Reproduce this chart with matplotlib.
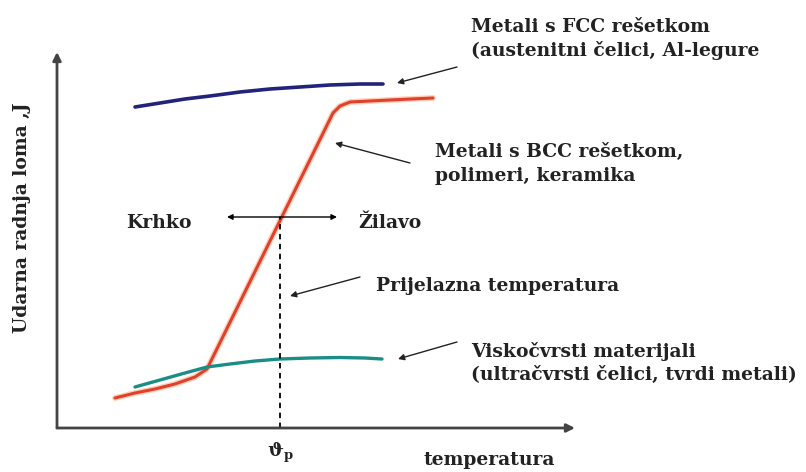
import matplotlib
matplotlib.use("Agg")
import matplotlib.pyplot as plt

# curve points (x to the right, y downwards, picture units)
fcc_x = [135, 160, 185, 210, 240, 270, 300, 330, 360, 383]
fcc_y = [107, 103, 99, 96, 92, 89, 87, 85, 84, 84]

bcc_x = [115, 135, 155, 175, 195, 207, 333, 340, 350, 370, 400, 433]
bcc_y = [398, 393, 389, 384, 377, 369, 113, 106, 102, 101, 99.5, 98]

visko_x = [135, 160, 185, 207, 230, 255, 280, 310, 340, 365, 382]
visko_y = [387, 380, 373, 367, 364, 361, 359, 358, 357.5, 358, 359]

# transition temperature marker
tp_x = 280
tp_y = 217

# labels
fcc_label = "Metali s FCC rešetkom\n(austenitni čelici, Al-legure"
bcc_label = "Metali s BCC rešetkom,\npolimeri, keramika"
visko_label = "Viskočvrsti materijali\n(ultračvrsti čelici, tvrdi metali)"
tp_label = "Prijelazna temperatura"
y_label = "Udarna radnja loma ,J"
x_label = "temperatura"

plt.rcParams['font.family'] = ['DejaVu Serif']
plt.rcParams['font.weight'] = 'bold'
fs = 13.5

fig = plt.figure(figsize=(8.06, 4.72), dpi=100)
ax = fig.add_axes([0, 0, 1, 1])
ax.set_xlim(0, 806)
ax.set_ylim(472, 0)
ax.axis('off')

# axes with arrows
ax.annotate('', xy=(575, 428), xytext=(57, 428),
            arrowprops=dict(arrowstyle='-|>', color='#444444', lw=2, mutation_scale=12,
                            shrinkA=0, shrinkB=0))
ax.annotate('', xy=(57, 52), xytext=(57, 428),
            arrowprops=dict(arrowstyle='-|>', color='#444444', lw=2, mutation_scale=12,
                            shrinkA=0, shrinkB=0))

# curves
ax.plot(bcc_x, bcc_y, color='#ffb08a', lw=4.2, solid_capstyle='round', alpha=0.6)
ax.plot(bcc_x, bcc_y, color='#e0402c', lw=2.2, solid_capstyle='round')
ax.plot(visko_x, visko_y, color='#1a8e86', lw=2.4, solid_capstyle='round')
ax.plot(fcc_x, fcc_y, color='#22237a', lw=2.6, solid_capstyle='round')

# dashed transition line
ax.plot([tp_x, tp_x], [428, tp_y], color='black', lw=1.3, ls=(0, (3, 2.5)))

# brittle / ductile arrows
ax.annotate('', xy=(227, tp_y), xytext=(tp_x, tp_y),
            arrowprops=dict(arrowstyle='-|>', color='black', lw=1, mutation_scale=8,
                            shrinkA=0, shrinkB=0))
ax.annotate('', xy=(337, tp_y), xytext=(tp_x, tp_y),
            arrowprops=dict(arrowstyle='-|>', color='black', lw=1, mutation_scale=8,
                            shrinkA=0, shrinkB=0))
ax.text(126, 223, "Krhko", fontsize=fs, ha='left', va='center', color='#222222')
ax.text(358, 223, "Žilavo", fontsize=fs, ha='left', va='center', color='#222222')

# pointer arrows
arrow_kw = dict(arrowstyle='-|>', color='#222222', lw=1, mutation_scale=9, shrinkA=0, shrinkB=0)
ax.annotate('', xy=(397, 83), xytext=(457, 67), arrowprops=arrow_kw)
ax.annotate('', xy=(335, 143), xytext=(410, 163), arrowprops=arrow_kw)
ax.annotate('', xy=(290, 296), xytext=(360, 277), arrowprops=arrow_kw)
ax.annotate('', xy=(398, 359), xytext=(457, 342), arrowprops=arrow_kw)

# texts
tkw = dict(fontsize=fs, ha='left', va='center', color='#222222', linespacing=1.4)
ax.text(471, 39, fcc_label, **tkw)
ax.text(435, 164, bcc_label, **tkw)
ax.text(376, 286, tp_label, **tkw)
ax.text(471, 363, visko_label, **tkw)
ax.text(424, 460, x_label, **tkw)
ax.text(280, 453, "ϑ$_\\mathregular{p}$", fontsize=fs, ha='center', va='center', color='#222222')
ax.text(22, 218, y_label, fontsize=fs, ha='center', va='center', rotation=90, color='#222222')

fig.savefig('out.png', dpi=100)
